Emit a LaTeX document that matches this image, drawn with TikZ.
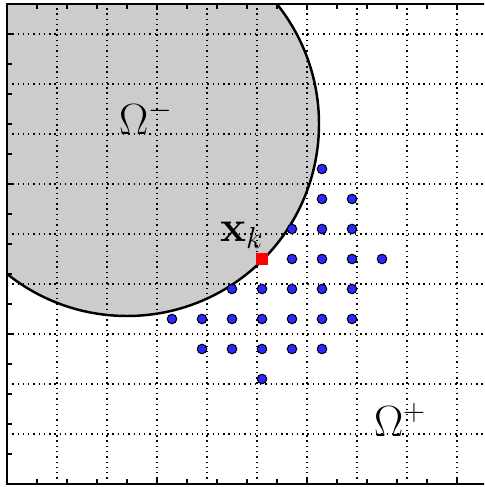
\documentclass[tikz,border=0pt]{standalone}
\usepackage{amsmath,amssymb}
\usepackage{xcolor}
\usepackage{tikz}
\usetikzlibrary{positioning}
\definecolor{cgris}{HTML}{CCCCCC}
\definecolor{cazul}{HTML}{2828FF}
\definecolor{crojo}{HTML}{FF0000}
\tikzset{
  rejilla/.style={draw=black, line width=0.6pt, dash pattern=on 0.8pt off 2.2pt},
  marco/.style={draw=black, line width=0.8pt},
  borde/.style={draw=black, line width=1.4pt},
  punto/.style={circle, draw=black, fill=cazul, line width=0.6pt,
    inner sep=0pt, minimum size=1.9mm},
  nodok/.style={rectangle, fill=crojo, inner sep=0pt, minimum size=2.4mm},
  etq/.style={font=\fontsize{27}{32}\selectfont, inner sep=1pt},
}

\begin{document}
\begin{tikzpicture}[x=0.6cm, y=0.6cm]
  \useasboundingbox (-0.233,-0.1) rectangle (15.9,16.133);
  \clip (-0.233,-0.1) rectangle (15.9,16.133);
  % dominio interior
  \begin{scope}
    \clip (0,0) rectangle (16,16);
    \fill[cgris] (4,12) circle (6.4);
  \end{scope}
  \draw[rejilla] (0,0) grid (16,16);
  \begin{scope}
    \clip (0,0) rectangle (16,16);
    \draw[borde] (4,12) circle (6.4);
  \end{scope}
  \draw[marco] (0,0) rectangle (16,16);
  % marcas de los ejes
  \foreach \t in {1,...,15} {
    \draw[marco] (\t,0) -- (\t,0.17);
    \draw[marco] (\t,16) -- (\t,15.83);
    \draw[marco] (0,\t) -- (0.17,\t);
  }
  % puntos vecinos
  \foreach \u/\v in {10.5/10.5, 10.5/9.5, 11.5/9.5, 9.5/8.5, 10.5/8.5, 11.5/8.5,
      9.5/7.5, 10.5/7.5, 11.5/7.5, 12.5/7.5,
      7.5/6.5, 8.5/6.5, 9.5/6.5, 10.5/6.5, 11.5/6.5,
      5.5/5.5, 6.5/5.5, 7.5/5.5, 8.5/5.5, 9.5/5.5, 10.5/5.5, 11.5/5.5,
      6.5/4.5, 7.5/4.5, 8.5/4.5, 9.5/4.5, 10.5/4.5, 8.5/3.5}
    \node[punto] (p-\u-\v) at (\u,\v) {};
  \node[nodok] (xk) at (8.5,7.5) {};
  \node[etq, above left=0.04cm and -0.2cm of xk] (lxk) {$\mathbf{x}_k$};
  \node[etq] (omm) at (4.63,12.2) {$\Omega^-$};
  \node[etq] (omp) at (13.1,2.13) {$\Omega^+$};
\end{tikzpicture}
\end{document}
